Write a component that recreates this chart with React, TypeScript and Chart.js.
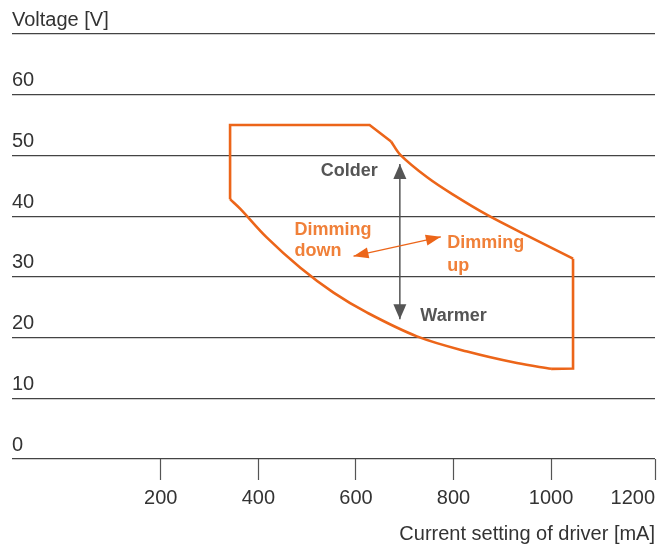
import React, { useEffect, useRef } from "react";
import { Chart, registerables } from "chart.js";

Chart.register(...registerables);

// Axis extents (mA / V)
const xMin = -105;
const xMax = 1213;
const xTickValues = [xMin, 200, 400, 600, 800, 1000, xMax];
const xTickLabels = ["", "200", "400", "600", "800", "1000", "1200"];
const yTickLabels: Record<number, string> = { 70: "Voltage [V]" };

// Operating window outline: straight edges
const edgeLeftTop = [
  { x: 342, y: 42.8 },
  { x: 342, y: 55 },
  { x: 628, y: 55 },
  { x: 672, y: 52.3 },
];
const edgeRight = [
  { x: 1045, y: 33 },
  { x: 1045, y: 14.9 },
  { x: 1000, y: 14.85 },
];
// Curved edges
const curveUpper = [
  { x: 672, y: 52.3 },
  { x: 691, y: 50.1 },
  { x: 746, y: 46.4 },
  { x: 800, y: 43.5 },
  { x: 869, y: 40.2 },
  { x: 951, y: 36.8 },
  { x: 1045, y: 33 },
];
const curveLower = [
  { x: 1000, y: 14.85 },
  { x: 930, y: 15.8 },
  { x: 828, y: 17.7 },
  { x: 725, y: 20.2 },
  { x: 623, y: 24.1 },
  { x: 554, y: 27.4 },
  { x: 486, y: 31.5 },
  { x: 417, y: 36.5 },
  { x: 363, y: 41.2 },
  { x: 342, y: 42.8 },
];

// Arrows (data coordinates: tail/tip pairs)
const arrowColour = [
  { x: 690, y: 48.6 },
  { x: 690, y: 23 },
];
const arrowDimming = [
  { x: 595, y: 33.4 },
  { x: 774, y: 36.6 },
];

// Annotations
const notes = [
  { text: "Colder", x: 528, y: 47.5, kind: "grey" },
  { text: "Warmer", x: 732, y: 23.6, kind: "grey" },
  { text: "Dimming", x: 474, y: 37.7, kind: "orange" },
  { text: "down", x: 474, y: 34.3, kind: "orange" },
  { text: "Dimming", x: 787, y: 35.5, kind: "orange" },
  { text: "up", x: 787, y: 31.8, kind: "orange" },
];

const ORANGE = "#EC6519";
const ORANGE_TEXT = "#F08039";
const GREY = "#555555";
const FONT = "'Liberation Sans', Arial, sans-serif";

function drawHead(
  ctx: CanvasRenderingContext2D,
  fx: number,
  fy: number,
  tx: number,
  ty: number,
  len: number,
  half: number
) {
  const a = Math.atan2(ty - fy, tx - fx);
  const bx = tx - len * Math.cos(a);
  const by = ty - len * Math.sin(a);
  const px = -Math.sin(a) * half;
  const py = Math.cos(a) * half;
  ctx.beginPath();
  ctx.moveTo(tx, ty);
  ctx.lineTo(bx + px, by + py);
  ctx.lineTo(bx - px, by - py);
  ctx.closePath();
  ctx.fill();
}

const annotationPlugin = {
  id: "annotations",
  afterDatasetsDraw(chart: any) {
    const ctx: CanvasRenderingContext2D = chart.ctx;
    const xs = chart.scales.x;
    const ys = chart.scales.y;
    const arrow = (pts: { x: number; y: number }[], colour: string, w: number, len: number, half: number) => {
      const x1 = xs.getPixelForValue(pts[0].x);
      const y1 = ys.getPixelForValue(pts[0].y);
      const x2 = xs.getPixelForValue(pts[1].x);
      const y2 = ys.getPixelForValue(pts[1].y);
      ctx.save();
      ctx.strokeStyle = colour;
      ctx.fillStyle = colour;
      ctx.lineWidth = w;
      ctx.beginPath();
      ctx.moveTo(x1, y1);
      ctx.lineTo(x2, y2);
      ctx.stroke();
      drawHead(ctx, x1, y1, x2, y2, len, half);
      drawHead(ctx, x2, y2, x1, y1, len, half);
      ctx.restore();
    };
    arrow(arrowColour, GREY, 1.5, 15, 6.5);
    arrow(arrowDimming, ORANGE, 1.3, 15, 5.5);

    ctx.save();
    ctx.textAlign = "left";
    ctx.textBaseline = "middle";
    notes.forEach((n) => {
      ctx.font = `bold 18px ${FONT}`;
      ctx.fillStyle = n.kind === "grey" ? GREY : ORANGE_TEXT;
      ctx.fillText(n.text, xs.getPixelForValue(n.x), ys.getPixelForValue(n.y));
    });
    ctx.restore();
  },
};

export default function App() {
  const ref = useRef<HTMLCanvasElement | null>(null);

  useEffect(() => {
    document.body.style.margin = "0";
    if (!ref.current) return;
    const lineDs = (data: { x: number; y: number }[], tension: number) => ({
      data,
      showLine: true,
      borderColor: ORANGE,
      borderWidth: 2.6,
      pointRadius: 0,
      tension,
      fill: false,
      borderJoinStyle: "miter" as const,
    });
    const chart = new Chart(ref.current, {
      type: "scatter",
      data: {
        datasets: [
          lineDs(edgeLeftTop, 0),
          lineDs(edgeRight, 0),
          lineDs(curveUpper, 0.35),
          lineDs(curveLower, 0.35),
        ],
      },
      options: {
        animation: false,
        responsive: false,
        maintainAspectRatio: false,
        layout: { padding: { left: 12, right: 9, top: 34, bottom: 2 } },
        plugins: { legend: { display: false }, tooltip: { enabled: false } },
        scales: {
          x: {
            type: "linear",
            min: xMin,
            max: xMax,
            afterBuildTicks: (scale: any) => {
              scale.ticks = xTickValues.map((v) => ({ value: v }));
            },
            ticks: {
              align: "inner",
              maxRotation: 0,
              autoSkip: false,
              padding: 6,
              color: "#333",
              font: { family: FONT, size: 20 },
              callback: (_v: any, i: number) => xTickLabels[i],
            },
            grid: {
              drawOnChartArea: false,
              drawTicks: true,
              tickLength: 21,
              tickWidth: 1.2,
              tickColor: (c: any) => (c.index === 0 ? "rgba(0,0,0,0)" : "#555"),
            },
            border: { display: false },
            title: {
              display: true,
              text: "Current setting of driver [mA]",
              align: "end",
              color: "#333",
              font: { family: FONT, size: 20 },
              padding: { top: 6, bottom: 0 },
            },
          },
          y: {
            type: "linear",
            min: 0,
            max: 70,
            ticks: {
              stepSize: 10,
              mirror: true,
              padding: 0,
              labelOffset: -14,
              color: "#333",
              font: { family: FONT, size: 20 },
              callback: (v: any) => yTickLabels[v] ?? String(v),
            },
            grid: { color: "#444", lineWidth: 1.2, drawTicks: false },
            border: { display: false },
          },
        },
      },
      plugins: [annotationPlugin],
    });
    return () => chart.destroy();
  }, []);

  return (
    <div style={{ width: 664, height: 548, background: "#fff" }}>
      <canvas ref={ref} width={664} height={548} style={{ display: "block" }} />
    </div>
  );
}
